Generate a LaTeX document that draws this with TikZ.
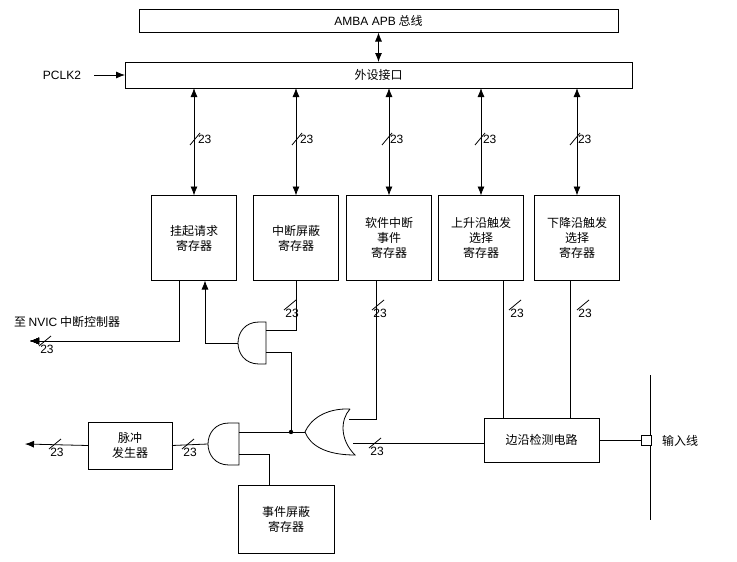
\documentclass[tikz,border=0pt]{standalone}
\usepackage{fontspec}
\setmainfont{Liberation Sans}
\newfontfamily\cjk{Noto Sans CJK SC}
\usetikzlibrary{positioning,calc,arrows.meta}
\newcommand{\vbus}[1]{\draw (#1) ++(-5,6) -- ++(10,-12); \node[anchor=west,font=\rmfamily\fontsize{12}{14}\selectfont] at ($(#1)+(3,0)$) {23};}
\newcommand{\hbus}[1]{\draw (#1) ++(-6,5) -- ++(12,-10); \node[anchor=north,font=\rmfamily\fontsize{12}{14}\selectfont] at ($(#1)+(2,4)$) {23};}
\begin{document}
\begin{tikzpicture}[x=1pt,y=-1pt,>={Latex[length=9pt,width=7pt]},line width=0.8pt]
 \tikzstyle{every node}=[inner sep=0pt, outer sep=0pt, align=center, font=\cjk\fontsize{12}{15}\selectfont]
 \tikzstyle{reg}=[draw, minimum width=85pt, minimum height=85pt]
 \tikzstyle{bar}=[draw, minimum height=23pt]
 \useasboundingbox (0,0) rectangle (737,562);
 \node[bar, minimum width=479pt] (amba) at (378.5,21) {{\rmfamily AMBA APB} 总线};
 \node[bar, minimum width=507pt, minimum height=26pt] (pif) at (378.5,75) {外设接口};
 \node[font=\rmfamily\fontsize{12}{14}\selectfont] (pclk) at (62,75) {PCLK2};
 \node[reg] (r1) at (194,238) {挂起请求\\寄存器};
 \node[reg] (r2) at (296,238) {中断屏蔽\\寄存器};
 \node[reg] (r3) at (389,238) {软件中断\\事件\\寄存器};
 \node[reg] (r4) at (481,238) {上升沿触发\\选择\\寄存器};
 \node[reg] (r5) at (577,238) {下降沿触发\\选择\\寄存器};
 \node[draw, minimum width=115pt, minimum height=44pt] (edge) at (541.5,440) {边沿检测电路};
 \node[draw, minimum width=84pt, minimum height=47pt] (pulse) at (130,445.5) {脉冲\\发生器};
 \node[draw, minimum width=96pt, minimum height=68pt] (evm) at (286,519) {事件屏蔽\\寄存器};
 \node[anchor=west] (nvic) at (14,322) {至 {\rmfamily NVIC} 中断控制器};
 \node[anchor=west] (inl) at (662,441) {输入线};
 \coordinate (pin) at (646,440);
 \coordinate (nvicend) at (30,341);
 \coordinate (outend) at (25,444);
 \coordinate (pt) at (650,375);
 \coordinate (pb) at (650,520);
 % gates
 \draw (266,322) -- (259,322) .. controls (231,322) and (231,364) .. (259,364) -- (266,364) -- cycle;
 \draw (239,423) -- (229,423) .. controls (201,423) and (201,465) .. (229,465) -- (239,465) -- cycle;
 \draw (350,409) .. controls (325,408) and (310,420) .. (305,432)
   .. controls (310,445) and (325,455) .. (355,455)
   .. controls (340,440) and (340,420) .. (350,409);
 \coordinate (and1o) at (238,343);
 \coordinate (and2o) at (208,444);
 \coordinate (oro) at (305,432);
 \coordinate (j) at (291,432);
 % bus and registers
 \draw[<->] (amba) -- (pif);
 \draw[->] (pclk) ++(32,0) -- (pif.west);
 \foreach \r in {r1,r2,r3,r4,r5}
   \draw[<->] (pif.south -| \r) -- (\r.north);
 \foreach \x in {195,297,387,480,575}
   \vbus{\x,139}
 % outputs
 \draw[->] (r1.south -| 179,0) |- (nvicend);
 \hbus{45,341}
 \draw[->] (and1o) -| (r1.south -| 205,0);
 \draw (r2.south) |- (266,330);
 \hbus{290,305}
 \draw (266,352) -| (j);
 \draw (r3.south -| 376,0) |- (349,419);
 \hbus{378,305}
 \draw (edge.west |- 0,443) -- (353,443);
 \hbus{375,443}
 \draw (oro) -- (239,432);
 \fill (j) circle (2.2);
 \draw (evm.north -| 269,0) |- (239,454);
 \draw (and2o) -- (pulse.east);
 \hbus{188,444}
 \draw[->] (pulse.west) -- (outend);
 \hbus{55,444}
 \draw (r4.south -| 503,0) -- (edge.north -| 503,0);
 \hbus{515,305}
 \draw (r5.south -| 570,0) -- (edge.north -| 570,0);
 \hbus{583,305}
 \draw (pt) -- (pb);
 \draw (edge.east) -- (pin);
 \node[draw, minimum size=10pt, fill=white] (pinbox) at (pin) {};
\end{tikzpicture}
\end{document}
